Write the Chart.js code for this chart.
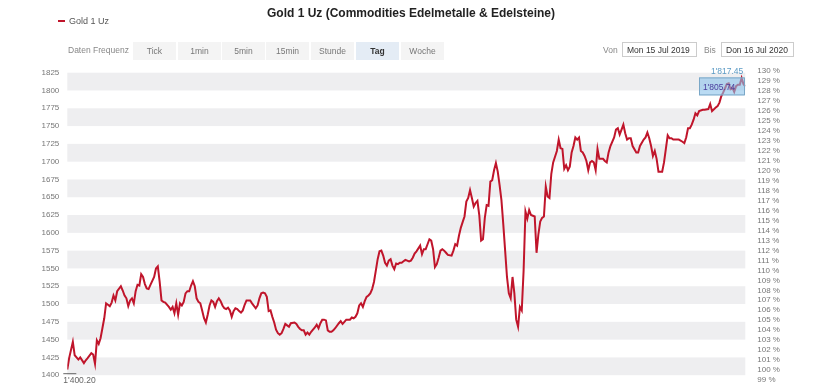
<!DOCTYPE html>
<html>
<head>
<meta charset="utf-8">
<script src="https://cdn.jsdelivr.net/npm/chart.js@4.4.1/dist/chart.umd.min.js"></script>
<style>
  body { margin:0; background:#fff; font-family:"Liberation Sans", Arial, sans-serif; }
  #wrap { position:relative; width:830px; height:392px; overflow:hidden; }
  #chart { position:absolute; left:0; top:0; }
  .title { position:absolute; top:6px; left:0; width:822px; text-align:center; font-size:12px; font-weight:bold; color:#222; }
  .legend { position:absolute; left:58px; top:16px; font-size:9px; color:#555; }
  .legend i { display:inline-block; width:7px; height:2px; background:#c0152b; vertical-align:middle; margin-right:4px; position:relative; top:-1px; }
  .lbl { position:absolute; top:45px; font-size:8.5px; color:#888; }
  .btn { position:absolute; top:42px; height:18px; width:43px; line-height:18px; text-align:center; background:#f4f4f4; font-size:8.5px; color:#777; }
  .btn.on { background:#e4ecf5; font-weight:bold; color:#333; }
  .date { position:absolute; top:42px; height:15px; line-height:15px; border:1px solid #ccc; background:#fff; font-size:8.5px; color:#333; padding-left:4px; box-sizing:border-box; }
</style>
</head>
<body>
<div id="wrap">
  <canvas id="chart" width="830" height="392"></canvas>
  <div class="title">Gold 1 Uz (Commodities Edelmetalle &amp; Edelsteine)</div>
  <div class="legend"><i></i>Gold 1 Uz</div>
  <div class="lbl" style="left:68px">Daten Frequenz</div>
  <div id="buttons"></div>
  <div class="lbl" style="left:603px">Von</div>
  <div class="date" style="left:622px;width:75px">Mon 15 Jul 2019</div>
  <div class="lbl" style="left:704px">Bis</div>
  <div class="date" style="left:721px;width:73px">Don 16 Jul 2020</div>
</div>
<script>
// days since 15 Jul 2019 and the close of that day
const days = [
  0,1,3,4,5,6,7,9,10,11,
  13,14,15,16,17,18,19,20,21,22,
  23,24,25,26,27,29,30,31,32,33,
  34,35,36,37,38,39,40,41,42,43,
  44,45,47,48,49,50,51,52,53,55,
  56,57,58,59,60,61,62,63,64,65,
  66,67,68,69,70,71,72,73,74,75,
  76,77,78,79,80,81,82,83,84,85,
  86,87,88,89,90,91,92,93,94,95,
  96,97,98,99,100,102,103,104,105,106,
  107,108,109,110,111,112,113,114,115,116,
  117,118,119,120,121,123,124,125,126,127,
  128,129,130,131,132,134,135,136,137,138,
  139,140,141,142,143,144,145,147,148,149,
  150,151,152,153,154,155,156,157,158,159,
  160,161,162,163,164,165,166,167,168,169,
  170,171,172,173,174,175,176,177,178,179,
  180,181,182,183,185,186,187,188,189,191,
  192,193,194,195,196,197,198,199,200,201,
  202,203,204,205,206,208,209,210,211,212,
  213,214,215,216,217,218,219,220,221,222,
  223,224,225,226,227,228,229,230,231,232,
  233,234,235,236,237,238,239,240,241,242,
  243,244,245,246,247,248,249,250,251,252,
  253,254,255,256,257,258,259,260,261,262,
  263,265,266,267,268,269,270,271,272,273,
  274,275,276,277,278,279,280,281,282,283,
  284,285,286,287,288,289,290,291,292,293,
  294,296,297,298,299,300,301,302,303,304,
  305,306,308,309,310,312,313,314,315,316,
  317,318,319,320,321,322,323,324,325,326,
  327,328,330,331,333,334,335,336,337,338,
  339,340,341,342,344,345,347,348,349,351,
  352,353,354,355,357,358,359,360,361,362,
  363,364,365,366,367
];
const gold = [
  1408,1424,1447,1428,1425,1422,1425,1417,1421,1424,
  1431,1429,1416,1449,1444,1452,1466,1480,1501,1499,
  1497,1502,1512,1505,1518,1525,1519,1512,1508,1497,
  1505,1508,1501,1518,1527,1526,1542,1538,1528,1522,
  1521,1527,1538,1550,1553,1531,1505,1503,1502,1496,
  1492,1496,1487,1501,1485,1501,1498,1503,1515,1518,
  1518,1526,1532,1525,1508,1503,1501,1491,1480,1474,
  1485,1498,1505,1503,1496,1504,1508,1504,1498,1494,
  1493,1495,1491,1482,1490,1494,1493,1490,1488,1491,
  1499,1505,1505,1505,1501,1494,1498,1508,1515,1516,
  1515,1510,1490,1491,1482,1474,1464,1459,1457,1459,
  1465,1472,1470,1468,1473,1474,1472,1468,1465,1463,
  1463,1457,1460,1457,1461,1467,1471,1466,1473,1478,
  1478,1477,1463,1461,1461,1463,1466,1473,1476,1472,
  1475,1478,1478,1478,1481,1480,1482,1487,1498,1501,
  1496,1504,1510,1512,1515,1521,1531,1547,1563,1574,
  1575,1568,1558,1554,1561,1563,1554,1549,1557,1556,
  1558,1558,1560,1562,1560,1561,1565,1571,1574,1582,
  1570,1577,1577,1584,1591,1589,1577,1552,1556,1565,
  1575,1577,1575,1572,1569,1568,1575,1584,1582,1596,
  1607,1615,1623,1644,1649,1660,1649,1637,1642,1645,
  1625,1589,1591,1621,1639,1638,1672,1674,1688,1698,
  1686,1667,1646,1612,1575,1538,1515,1508,1538,1515,
  1478,1468,1496,1491,1547,1630,1620,1632,1625,1624,
  1623,1572,1598,1616,1621,1623,1665,1651,1649,1683,
  1699,1715,1731,1719,1718,1690,1695,1688,1693,1713,
  1722,1734,1731,1734,1715,1713,1708,1701,1688,1699,
  1701,1699,1688,1718,1704,1704,1704,1701,1699,1713,
  1722,1734,1745,1747,1738,1745,1752,1740,1731,1733,
  1733,1722,1713,1713,1722,1731,1734,1741,1733,1722,
  1708,1715,1704,1686,1686,1686,1699,1718,1737,1733,
  1733,1731,1731,1731,1728,1726,1734,1747,1747,1752,
  1759,1768,1765,1771,1773,1773,1774,1781,1771,1776,
  1778,1783,1792,1797,1809,1810,1802,1804,1798,1806,
  1808,1808,1817.45,1809,1805.74
];
const priceTicks = [1400,1425,1450,1475,1500,1525,1550,1575,1600,1625,1650,1675,1700,1725,1750,1775,1800,1825];
const pctTicks = [99,100,101,102,103,104,105,106,107,108,109,110,111,112,113,114,115,116,117,118,119,120,121,122,123,124,125,126,127,128,129,130];
const baseValue = 1400.20;
const frequencies = ['Tick','1min','5min','15min','Stunde','Tag','Woche'];
const buttonLeft = [133,178,222,266,311,356,401];

document.getElementById('buttons').innerHTML = frequencies.map((f, i) =>
  `<div class="btn${f === 'Tag' ? ' on' : ''}" style="left:${buttonLeft[i]}px">${f}</div>`).join('');

const fmt = v => Math.floor(v / 1000) + "'" + (v % 1000).toFixed(2).padStart(6, '0');
const FONT = '"Liberation Sans", Arial, sans-serif';

const bandsPlugin = {
  id: 'bands',
  beforeDatasetsDraw(chart) {
    const { ctx, chartArea: a, scales: { y } } = chart;
    ctx.save();
    ctx.fillStyle = '#eeeef0';
    for (let i = 0; i < priceTicks.length - 1; i += 2) {
      const top = y.getPixelForValue(priceTicks[i + 1]);
      const bottom = y.getPixelForValue(priceTicks[i]);
      ctx.fillRect(a.left, top, a.right - a.left, bottom - top);
    }
    ctx.restore();
  }
};

const markersPlugin = {
  id: 'markers',
  afterDatasetsDraw(chart) {
    const { ctx, chartArea: a, scales: { y } } = chart;
    const maxV = Math.max(...gold);
    const lastV = gold[gold.length - 1];
    ctx.save();
    ctx.font = '8.5px ' + FONT;
    ctx.textBaseline = 'middle';

    // high
    ctx.fillStyle = '#5b9ac4';
    ctx.textAlign = 'right';
    ctx.fillText(fmt(maxV), a.right - 2, y.getPixelForValue(maxV) - 6);

    // last value box
    const ly = y.getPixelForValue(lastV);
    ctx.fillStyle = 'rgba(140,195,235,0.6)';
    ctx.strokeStyle = '#7aa7c7';
    ctx.lineWidth = 1;
    ctx.fillRect(699, ly - 9, 45, 18);
    ctx.strokeRect(699.5, ly - 8.5, 45, 17);
    ctx.fillStyle = '#4a3c9c';
    ctx.textAlign = 'left';
    ctx.fillText(fmt(lastV), 703, ly + 1);

    // low
    ctx.fillStyle = '#666';
    ctx.fillText(fmt(baseValue), a.left - 4, a.bottom + 5);
    ctx.strokeStyle = '#666';
    ctx.beginPath();
    ctx.moveTo(a.left - 4, a.bottom - 1.5);
    ctx.lineTo(a.left + 9, a.bottom - 1.5);
    ctx.stroke();
    ctx.restore();
  }
};

new Chart(document.getElementById('chart'), {
  type: 'line',
  data: {
    datasets: [{
      label: 'Gold 1 Uz',
      data: days.map((d, i) => ({ x: d, y: gold[i] })),
      borderColor: '#c0152b',
      borderWidth: 2,
      pointRadius: 0,
      tension: 0,
      fill: false
    }]
  },
  options: {
    responsive: false,
    animation: false,
    devicePixelRatio: 1,
    layout: { padding: { top: 72.7, bottom: 12.7, left: 0, right: 0 } },
    plugins: { legend: { display: false }, tooltip: { enabled: false } },
    scales: {
      x: { type: 'linear', min: days[0], max: days[days.length - 1], display: false },
      y: {
        position: 'left',
        min: priceTicks[0], max: priceTicks[priceTicks.length - 1],
        afterBuildTicks: s => { s.ticks = priceTicks.map(v => ({ value: v })); },
        afterFit: s => { s.width = 67.3; },
        grid: { display: false, drawTicks: false },
        border: { display: false },
        ticks: { color: '#777', font: { size: 8, family: FONT }, padding: 8, autoSkip: false,
          callback: v => String(v) }
      },
      pct: {
        position: 'right',
        min: priceTicks[0] / baseValue * 100,
        max: priceTicks[priceTicks.length - 1] / baseValue * 100,
        afterBuildTicks: s => { s.ticks = pctTicks.map(v => ({ value: v })); },
        afterFit: s => { s.width = 830 - 745.3; },
        grid: { display: false, drawTicks: false },
        border: { display: false },
        ticks: { color: '#777', font: { size: 8, family: FONT }, padding: 12, autoSkip: false, labelOffset: -5,
          callback: v => v + ' %' }
      }
    }
  },
  plugins: [bandsPlugin, markersPlugin]
});
</script>
</body>
</html>
